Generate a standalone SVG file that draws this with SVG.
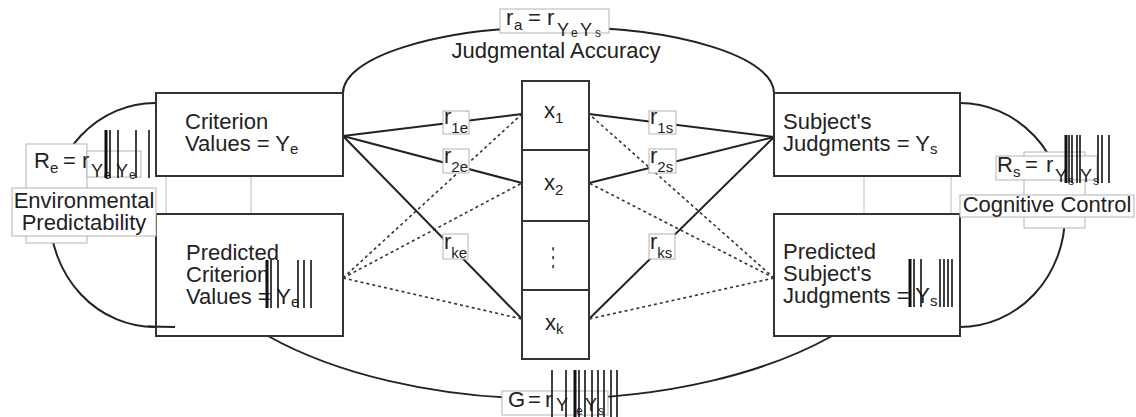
<svg xmlns="http://www.w3.org/2000/svg" width="1136" height="417" viewBox="0 0 1136 417">
  <style>
    .t { font-family: "Liberation Sans", Arial, Helvetica, sans-serif; font-size: 22px; fill: #222; }
    .sub { font-size: 15px; }
    .suby { font-size: 18px; }
    .subsub { font-size: 12px; }
    .box { fill: #fff; stroke: #333; stroke-width: 2; }
    .lab { fill: #fff; stroke: #b4b4b4; stroke-width: 1; }
    .arc { fill: none; stroke: #222; stroke-width: 2; }
    .solid { stroke: #222; stroke-width: 2; fill: none; }
    .dot { stroke: #333; stroke-width: 1.6; stroke-dasharray: 3 3; fill: none; }
    .tie { stroke: #bdbdbd; stroke-width: 1; }
    .bar { stroke: #111; stroke-width: 1.6; }
    .bar.w { stroke-width: 3; }
  </style>

  <!-- lens arcs -->
  <g id="arcs">
    <path class="arc" d="M343,93 A215.5,66 0 0 1 774,93"/>
    <path class="arc" d="M155,103 A105,112 0 0 0 155,327"/>
    <path class="arc" d="M960,103 A105,112 0 0 1 960,327"/>
    <path class="arc" d="M268,336 A377,187 0 0 0 832,336"/>
  </g>

  <!-- cue connectors -->
  <g id="connectors">
    <line class="solid" x1="343" y1="136" x2="522" y2="114"/>
    <line class="solid" x1="343" y1="136" x2="522" y2="183"/>
    <line class="solid" x1="343" y1="136" x2="522" y2="319"/>
    <line class="solid" x1="774" y1="137" x2="589" y2="114"/>
    <line class="solid" x1="774" y1="137" x2="589" y2="183"/>
    <line class="solid" x1="774" y1="137" x2="589" y2="319"/>
    <line class="dot" x1="343" y1="278" x2="522" y2="114"/>
    <line class="dot" x1="343" y1="278" x2="522" y2="183"/>
    <line class="dot" x1="343" y1="278" x2="522" y2="319"/>
    <line class="dot" x1="774" y1="278" x2="589" y2="114"/>
    <line class="dot" x1="774" y1="278" x2="589" y2="183"/>
    <line class="dot" x1="774" y1="278" x2="589" y2="319"/>
    <line class="tie" x1="166" y1="176" x2="166" y2="214"/>
    <line class="tie" x1="251" y1="176" x2="251" y2="214"/>
    <line class="tie" x1="864" y1="176" x2="864" y2="214"/>
    <line class="tie" x1="951" y1="176" x2="951" y2="214"/>
  </g>

  <!-- environment side -->
  <g id="criterion">
    <rect class="box" x="156" y="93" width="187" height="83"/>
    <text class="t" x="185" y="129">Criterion</text>
    <text class="t" x="185" y="151">Values = Y<tspan class="sub" dy="3">e</tspan></text>
  </g>
  <g id="predicted-criterion">
    <rect class="box" x="156" y="214" width="187" height="122"/>
    <text class="t" x="186" y="260">Predicted</text>
    <text class="t" x="186" y="282">Criterion</text>
    <text class="t" x="186" y="304">Values = Y<tspan class="sub" dy="3">e</tspan></text>
  </g>

  <!-- subject side -->
  <g id="judgments">
    <rect class="box" x="774" y="93" width="186" height="83"/>
    <text class="t" x="783" y="129">Subject's</text>
    <text class="t" x="783" y="151">Judgments = Y<tspan class="sub" dy="3">s</tspan></text>
  </g>
  <g id="predicted-judgments">
    <rect class="box" x="774" y="214" width="186" height="122"/>
    <text class="t" x="783" y="259">Predicted</text>
    <text class="t" x="783" y="281">Subject's</text>
    <text class="t" x="783" y="303">Judgments = Y<tspan class="sub" dy="3">s</tspan></text>
  </g>

  <!-- cue column -->
  <g id="cues">
    <rect class="box" x="522" y="81" width="67" height="69"/>
    <rect class="box" x="522" y="150" width="67" height="71"/>
    <rect class="box" x="522" y="221" width="67" height="69"/>
    <rect class="box" x="522" y="290" width="67" height="69"/>
    <text class="t" x="544" y="118">x<tspan class="sub" dy="5">1</tspan></text>
    <text class="t" x="544" y="190">x<tspan class="sub" dy="5">2</tspan></text>
    <text class="t" transform="translate(553,266) scale(0.8,1.45)" text-anchor="middle" style="font-family: 'DejaVu Sans', sans-serif; font-size: 18px;">⋮</text>
    <text class="t" x="545" y="330">x<tspan class="sub" dy="4">k</tspan></text>
  </g>

  <!-- tail of the left arc inside the predicted criterion box -->
  <line class="solid" x1="148" y1="326.5" x2="175" y2="327"/>

  <!-- validity / utilization labels -->
  <g id="r1e">
    <rect class="lab" x="443" y="111" width="26" height="23"/>
    <text class="t" x="444" y="124">r<tspan class="sub" dy="9">1e</tspan></text>
  </g>
  <g id="r2e">
    <rect class="lab" x="443" y="149" width="26" height="24"/>
    <text class="t" x="444" y="163">r<tspan class="sub" dy="9">2e</tspan></text>
  </g>
  <g id="rke">
    <rect class="lab" x="443" y="234" width="25" height="25"/>
    <text class="t" x="444" y="249">r<tspan class="sub" dy="9">ke</tspan></text>
  </g>
  <g id="r1s">
    <rect class="lab" x="649" y="111" width="27" height="23"/>
    <text class="t" x="650" y="124">r<tspan class="sub" dy="9">1s</tspan></text>
  </g>
  <g id="r2s">
    <rect class="lab" x="649" y="149" width="27" height="24"/>
    <text class="t" x="650" y="163">r<tspan class="sub" dy="9">2s</tspan></text>
  </g>
  <g id="rks">
    <rect class="lab" x="649" y="234" width="26" height="25"/>
    <text class="t" x="650" y="249">r<tspan class="sub" dy="9">ks</tspan></text>
  </g>

  <!-- judgmental accuracy -->
  <g id="accuracy">
    <rect class="lab" x="500" y="9" width="109" height="24"/>
    <text class="t" x="506" y="25">r<tspan class="sub" x="514" y="30">a</tspan><tspan x="528" y="25">=</tspan><tspan x="547" y="25">r</tspan><tspan class="suby" x="557" y="36">Y</tspan><tspan class="subsub" x="571" y="37">e</tspan><tspan class="suby" x="580" y="36">Y</tspan><tspan class="subsub" x="595" y="37">s</tspan></text>
    <text class="t" x="556" y="58" text-anchor="middle">Judgmental Accuracy</text>
  </g>

  <!-- environmental predictability -->
  <g id="predictability">
    <rect class="lab" x="26" y="144" width="61" height="99"/>
    <rect class="lab" x="87" y="151" width="54" height="26"/>
    <rect class="lab" x="12" y="188" width="144" height="48"/>
    <text class="t" x="34" y="168">R<tspan class="sub" x="50" y="173">e</tspan><tspan x="63" y="168">=</tspan><tspan x="82" y="168">r</tspan><tspan class="suby" x="91" y="177">Y</tspan><tspan class="subsub" x="104" y="179">e</tspan><tspan class="suby" x="116" y="177">Y</tspan><tspan class="subsub" x="129" y="179">e</tspan></text>
    <text class="t" x="84" y="208" text-anchor="middle">Environmental</text>
    <text class="t" x="84" y="230" text-anchor="middle">Predictability</text>
  </g>

  <!-- cognitive control -->
  <g id="control">
    <rect class="lab" x="1024" y="152" width="61" height="76"/>
    <rect class="lab" x="996" y="156" width="101" height="24"/>
    <rect class="lab" x="960" y="195" width="174" height="22"/>
    <text class="t" x="997" y="172">R<tspan class="sub" x="1013" y="177">s</tspan><tspan x="1025" y="172">=</tspan><tspan x="1046" y="172">r</tspan><tspan class="suby" x="1055" y="182">Y</tspan><tspan class="subsub" x="1068" y="185">s</tspan><tspan class="suby" x="1080" y="182">Y</tspan><tspan class="subsub" x="1093" y="185">s</tspan></text>
    <text class="t" x="1047" y="212" text-anchor="middle">Cognitive Control</text>
  </g>

  <!-- achievement -->
  <g id="achievement">
    <rect class="lab" x="502" y="391" width="106" height="24"/>
    <text class="t" x="508" y="407">G<tspan x="528" y="407">=</tspan><tspan x="545" y="407">r</tspan><tspan class="suby" x="556" y="411">Y</tspan><tspan class="subsub" x="576" y="415">e</tspan><tspan class="suby" x="585" y="411">Y</tspan><tspan class="subsub" x="598" y="415">s</tspan></text>
  </g>

  <!-- accent strokes over the fitted values -->
  <g id="accents">
    <line class="bar w" x1="106" y1="130" x2="106" y2="178"/>
    <line class="bar" x1="110" y1="130" x2="110" y2="178"/>
    <line class="bar" x1="118" y1="130" x2="118" y2="178"/>
    <line class="bar" x1="136" y1="130" x2="136" y2="178"/>
    <line class="bar" x1="149" y1="130" x2="149" y2="178"/>

    <line class="bar w" x1="267" y1="260" x2="267" y2="308"/>
    <line class="bar" x1="271" y1="260" x2="271" y2="308"/>
    <line class="bar" x1="278" y1="260" x2="278" y2="308"/>
    <line class="bar" x1="298" y1="260" x2="298" y2="308"/>
    <line class="bar" x1="304" y1="260" x2="304" y2="308"/>
    <line class="bar" x1="311" y1="260" x2="311" y2="308"/>

    <line class="bar w" x1="1066" y1="135" x2="1066" y2="183"/>
    <line class="bar" x1="1069" y1="135" x2="1069" y2="183"/>
    <line class="bar" x1="1072" y1="135" x2="1072" y2="183"/>
    <line class="bar" x1="1077" y1="135" x2="1077" y2="183"/>
    <line class="bar" x1="1080" y1="135" x2="1080" y2="183"/>
    <line class="bar" x1="1098" y1="135" x2="1098" y2="183"/>
    <line class="bar" x1="1102" y1="135" x2="1102" y2="183"/>
    <line class="bar" x1="1109" y1="135" x2="1109" y2="183"/>

    <line class="bar w" x1="910" y1="259" x2="910" y2="307"/>
    <line class="bar" x1="914" y1="259" x2="914" y2="307"/>
    <line class="bar" x1="921" y1="259" x2="921" y2="307"/>
    <line class="bar" x1="940" y1="259" x2="940" y2="307"/>
    <line class="bar" x1="944" y1="259" x2="944" y2="307"/>
    <line class="bar" x1="948" y1="259" x2="948" y2="307"/>
    <line class="bar" x1="952" y1="259" x2="952" y2="307"/>

    <line class="bar" x1="552" y1="370" x2="552" y2="417"/>
    <line class="bar" x1="566" y1="370" x2="566" y2="417"/>
    <line class="bar w" x1="575" y1="370" x2="575" y2="417"/>
    <line class="bar" x1="579" y1="370" x2="579" y2="417"/>
    <line class="bar" x1="585" y1="370" x2="585" y2="417"/>
    <line class="bar" x1="592" y1="370" x2="592" y2="417"/>
    <line class="bar" x1="598" y1="370" x2="598" y2="417"/>
    <line class="bar" x1="604" y1="370" x2="604" y2="417"/>
    <line class="bar" x1="611" y1="370" x2="611" y2="417"/>
    <line class="bar" x1="617" y1="370" x2="617" y2="417"/>
  </g>
</svg>
